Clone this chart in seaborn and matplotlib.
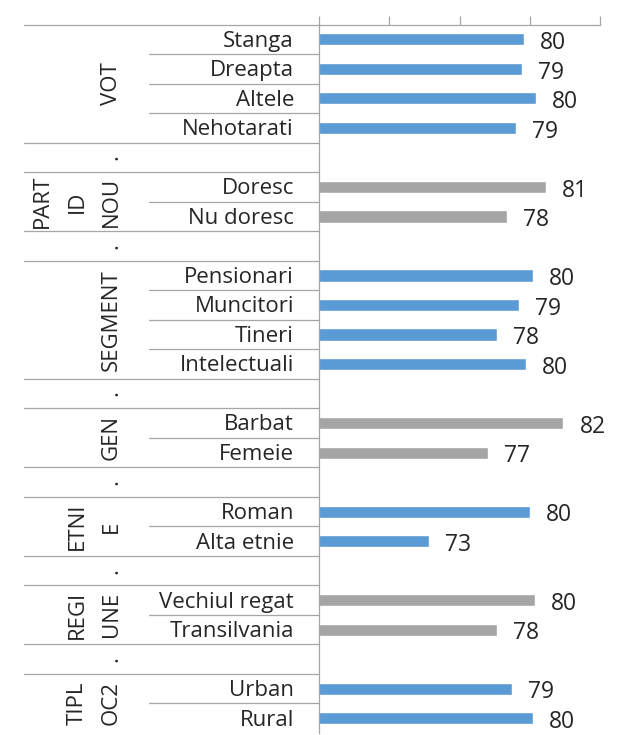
import numpy as np
import pandas as pd
import matplotlib
matplotlib.use('Agg')
import matplotlib.pyplot as plt
import seaborn as sns

# grupuri (eticheta rotita), subcategorii si valori
group_labels = ["VOT", ".", "PART\nID\nNOU", ".", "SEGMENT", ".", "GEN", ".",
                "ETNI\nE", ".", "REGI\nUNE", ".", "TIPL\nOC2"]
sub_labels = [
    ["Stanga", "Dreapta", "Altele", "Nehotarati"],
    [""],
    ["Doresc", "Nu doresc"],
    [""],
    ["Pensionari", "Muncitori", "Tineri", "Intelectuali"],
    [""],
    ["Barbat", "Femeie"],
    [""],
    ["Roman", "Alta etnie"],
    [""],
    ["Vechiul regat", "Transilvania"],
    [""],
    ["Urban", "Rural"],
]
values = [
    [79.6, 79.45, 80.45, 79.0],
    [np.nan],
    [81.15, 78.4],
    [np.nan],
    [80.2, 79.25, 77.7, 79.7],
    [np.nan],
    [82.4, 77.0],
    [np.nan],
    [80.0, 72.8],
    [np.nan],
    [80.35, 77.65],
    [np.nan],
    [78.75, 80.2],
]
shades = ["blue", "blue", "gray", "gray", "blue", "blue", "gray", "gray",
          "blue", "blue", "gray", "gray", "blue"]
x_ticks = [65, 70, 75, 80, 85]

BLUE = '#5B9BD5'
GRAY = '#A5A5A5'
LINE = '#A6A6A6'

rows = []
for g, (subs, vals, shade) in enumerate(zip(sub_labels, values, shades)):
    for s, v in zip(subs, vals):
        rows.append({'key': f'{g}-{s}', 'group': g, 'label': s,
                     'value': v, 'shade': shade})
df = pd.DataFrame(rows)

sns.set_style('white')
plt.rcParams['font.family'] = ['Open Sans', 'DejaVu Sans']

W, H = 618, 735
fig = plt.figure(figsize=(W / 100, H / 100), dpi=100)
left, right, top, bottom = 319, 600, 24.6, 733
ax = fig.add_axes([left / W, (H - bottom) / H, (right - left) / W, (bottom - top) / H])

sns.barplot(data=df, x='value', y='key', hue='shade',
            palette={'blue': BLUE, 'gray': GRAY}, order=list(df['key']),
            dodge=False, width=0.41, saturation=1, errorbar=None,
            legend=False, ax=ax)

ax.set_xlim(x_ticks[0], x_ticks[-1])
ax.set_ylim(len(df) - 0.5, -0.5)
ax.xaxis.tick_top()
ax.set_xticks(x_ticks)
ax.set_xticklabels([])
ax.tick_params(axis='x', direction='out', length=6.5, width=0.9, color=LINE,
               top=True, bottom=False)
ax.set_yticks([])
ax.set_xlabel('')
ax.set_ylabel('')
for side in ['bottom', 'right']:
    ax.spines[side].set_visible(False)
for side in ['top', 'left']:
    ax.spines[side].set_color(LINE)
    ax.spines[side].set_linewidth(0.9)


def ax_x(px):
    return (px - left) / (right - left)


tr = ax.get_yaxis_transform()

# etichete valori
for i, v in enumerate(df['value']):
    if np.isnan(v):
        continue
    ax.annotate(f'{v:.0f}', xy=(v, i + 0.33), xytext=(11.5, 0), textcoords='offset points',
                ha='left', va='baseline', fontsize=16.5)

# etichete subcategorii
for i, lab in enumerate(df['label']):
    ax.text(ax_x(294), i + 0.25, lab, ha='right', va='baseline', fontsize=16, transform=tr)

# etichete grupuri (rotite) si linii de separare
for g, lab in enumerate(group_labels):
    idx = np.where(df['group'].values == g)[0]
    yc = idx.mean()
    ax.text(ax_x(122), yc, lab, rotation=90, ha='right', va='center',
            multialignment='center', linespacing=1.85, fontsize=16, transform=tr)

# ultima linie (jos) e taiata in original
for b in range(len(df)):
    y = b - 0.5
    if b == 0 or df['group'].iloc[b] != df['group'].iloc[b - 1]:
        x0 = ax_x(24)
    else:
        x0 = ax_x(149)
    ax.plot([x0, 0], [y, y], color=LINE, lw=0.9, transform=tr, clip_on=False)

fig.savefig('out.png', dpi=100)
